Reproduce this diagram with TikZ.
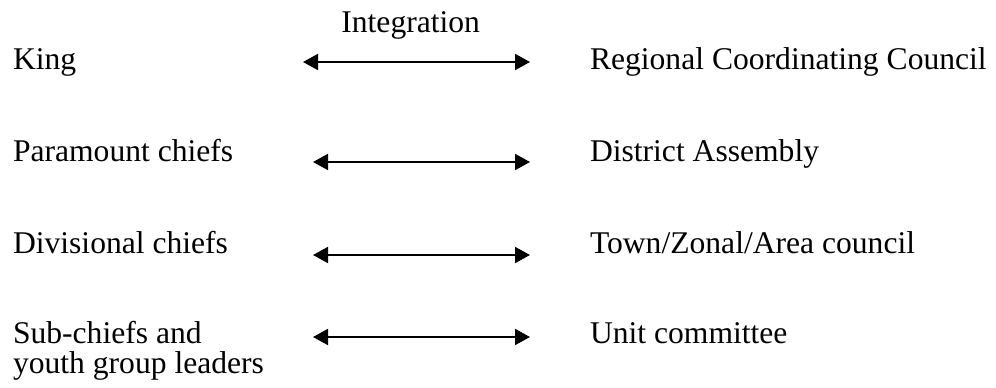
\documentclass[tikz,border=0pt]{standalone}
\usepackage{fontspec}
\setmainfont{Liberation Serif}
\usetikzlibrary{arrows.meta}
\begin{document}
\begin{tikzpicture}[x=1pt,y=-1pt,
  lbl/.style={inner sep=0pt,outer sep=0pt,anchor=base west,font=\fontsize{31.6}{29}\selectfont},
  link/.style={line width=1.8pt,{Triangle[length=15pt,width=16pt]}-{Triangle[length=15pt,width=16pt]}}]
\useasboundingbox (0,0) rectangle (996,388);
% left column
\node[lbl] (king) at (13,69) {King};
\node[lbl] (para) at (13,161) {Paramount chiefs};
\node[lbl] (divi) at (13,253) {Divisional chiefs};
\node[lbl] (sub) at (13,343) {\begin{tabular}[t]{@{}l@{}}Sub-chiefs and\\youth group leaders\end{tabular}};
% right column
\node[lbl] (rcc) at (590,69) {Regional Coordinating Council};
\node[lbl] (da) at (590,161) {District Assembly};
\node[lbl] (town) at (590,253) {Town/Zonal/Area council};
\node[lbl] (unit) at (590,343) {Unit committee};
% heading
\node[lbl,anchor=base east] (integ) at (480,32) {Integration};
% arrows
\coordinate (a1l) at (303,62);  \coordinate (a1r) at (530,62);
\coordinate (a2l) at (313,162); \coordinate (a2r) at (530,162);
\coordinate (a3l) at (313,255); \coordinate (a3r) at (530,255);
\coordinate (a4l) at (313,337); \coordinate (a4r) at (530,337);
\draw[link] (a1l) -- (a1r);
\draw[link] (a2l) -- (a2r);
\draw[link] (a3l) -- (a3r);
\draw[link] (a4l) -- (a4r);
\end{tikzpicture}
\end{document}
